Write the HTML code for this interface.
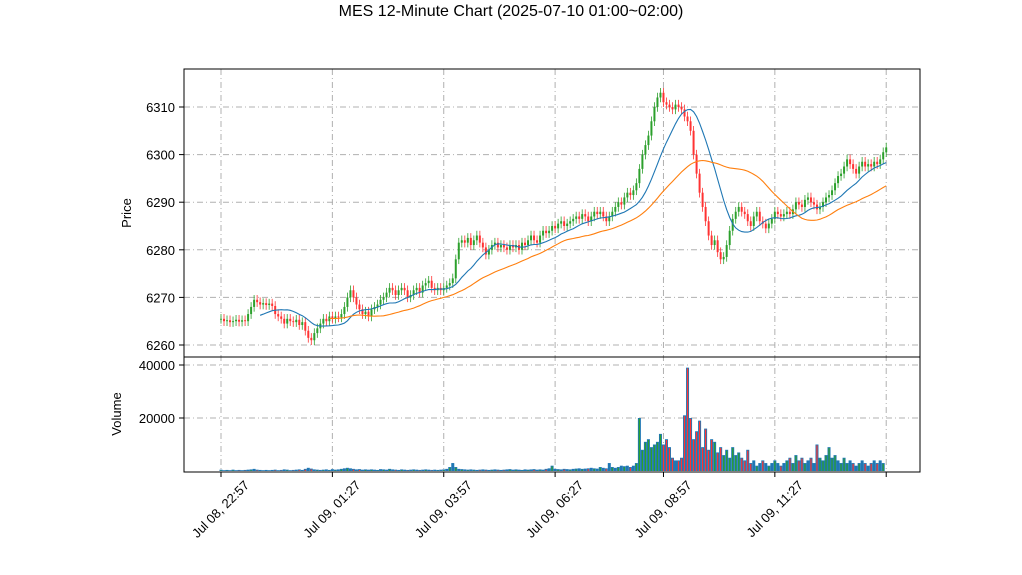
<!DOCTYPE html>
<html><head><meta charset="utf-8"><style>
body{margin:0;background:#fff;font-family:"Liberation Sans","DejaVu Sans",sans-serif}
svg{display:block}
</style></head><body>
<svg id="c" width="1022" height="575" font-family="Liberation Sans, DejaVu Sans, sans-serif">
<text x="511" y="16" text-anchor="middle" font-size="16">MES 12-Minute Chart (2025-07-10 01:00~02:00)</text>
<g id="grid"></g>
<g id="vol"></g>
<g id="candles"></g>
<g id="mas"></g>
<rect x="184" y="69" width="736" height="288" fill="none" stroke="#000"/>
<rect x="184" y="357" width="736" height="115" fill="none" stroke="#000"/>
<g id="axes" font-size="13"></g>
<text transform="translate(131,213) rotate(-90)" text-anchor="middle" font-size="13">Price</text>
<text transform="translate(121,414) rotate(-90)" text-anchor="middle" font-size="13">Volume</text>
</svg>
<script>
const closes=[6265.5,6265,6265.2,6264.8,6265,6265.3,6264.9,6265.2,6265,
6266.5,6268,6269.5,
6269,6268.5,6268.8,6268.4,6268.7,6268.2,
6266.5,6266,6265.5,6264.5,6265.5,
6265,6264.8,6265.3,6264.2,6264.8,
6263,6261.5,6261,6262.5,6263.5,
6264.5,6265.5,6265,6266,
6265.5,6266,6265.8,6266.5,6268,
6270,6271.5,6270,6268.5,
6267.5,6266.5,6267,6266,
6267.5,6268,6268.5,
6269.5,6270,6271,6272,6271.5,6270.5,6271.5,
6272,6271.5,6270,6270.5,6271.5,6272,6271,
6272.5,6273,6273.5,6272,6271.5,6272,6271.5,
6272,6272.5,6273,6274,
6278,6281.5,6282,
6281.5,6282.5,6281,6282,6283,6281.5,6280.5,
6279,6280,6281,6281.5,6280.5,6281,6280.5,
6280,6281,6280.5,6281,6280,6281.5,6281,6282,
6283,6282,6281.5,6283,6284,6283.5,
6284,6285,6284.5,6285.5,6286,6285,
6285.5,6286,6286.5,6287,6286.5,6287.5,6287,6286,6287,
6288,6287.5,6288,6287,6286,6287,6288,6289,
6290,6289.5,6291,6292,6291.5,6292.5,
6294,6297,6300,6302,6304,
6307,6310,6312,6313,6311,
6310.5,6310,6309.5,6310.5,6310,6309.5,6308,6307,6305,
6300,6296,6292,6289,
6286,6283,6281,6282,6279.5,6278,
6278.5,6281,6284,6286.5,
6288,6289,6288,6287.5,6286,6285,
6287,6288,6286,6285.5,6284.5,6285.5,
6286.5,6288,6287.5,6287,6287.5,6288,6287.5,
6288.5,6290,6289.5,6289,6290.5,6291,6290,
6289.5,6288.5,6289,6290,6291,6291.5,
6292.5,6294,6295.5,6296,6297.5,
6299,6298,6297,6296,6297.5,6298.5,6297.5,
6298,6297.5,6298.5,6298,6299,6300.5,6301.5];
const volumes=[0.5,0.3,0.4,0.3,0.5,0.3,0.4,0.3,0.4,0.5,0.6,0.8,0.5,0.4,0.3,0.4,0.3,0.4,0.5,0.3,0.4,0.6,0.5,0.3,0.4,0.5,0.6,0.4,0.8,1.2,0.9,0.6,0.5,0.4,0.5,0.6,0.4,0.7,0.5,0.6,0.8,1.0,1.2,1.0,0.8,0.6,0.7,0.5,0.6,0.5,0.6,0.5,0.4,0.7,0.6,0.5,0.8,0.6,0.5,0.4,0.6,0.5,0.4,0.5,0.6,0.5,0.4,0.5,0.6,0.5,0.4,0.5,0.4,0.5,0.6,0.8,1.5,3,1.5,0.8,0.7,0.6,0.5,0.6,0.5,0.4,0.5,0.6,0.5,0.4,0.5,0.6,0.5,0.4,0.5,0.6,0.7,0.5,0.6,0.5,0.4,0.6,0.5,0.6,0.7,0.5,0.6,0.5,0.8,1.0,2,0.8,0.7,0.6,0.8,0.7,0.6,0.8,0.9,1.0,0.8,0.9,1.0,1.2,1.0,0.9,1.5,1.2,1.0,3,1.5,1.2,1.5,2,1.8,2,1.5,2,3,20,8,11,12,9,10,11,14,10,12,9,5,4,4,5,21,39,20,12,15,19,9,16,8,12,11,7,9,6,8,5,9,6,7,5,4,8,3,4,2,3,4,3,2,3,4,3,2,3,4,5,3,6,4,5,3,4,5,3,10,5,4,6,9,5,6,4,3,5,3,4,3,2,3,4,3,2,3,4,3,4,3];
const priceTicks=[6260,6270,6280,6290,6300,6310];
const volTicks=[20000,40000];
const xTickLabels=["Jul 08, 22:57","Jul 09, 01:27","Jul 09, 03:57","Jul 09, 06:27","Jul 09, 08:57","Jul 09, 11:27",""];
const xTickIdx=[0,37,74,111,147,184,221];
const maShort=14, maLong=37;

const NS="http://www.w3.org/2000/svg";
const X=i=>221+i*3.01;
const Y=p=>107+(6310-p)*4.76;
const VY=v=>471-v*2.65;
function mk(tag,attrs,parent){const e=document.createElementNS(NS,tag);for(const k in attrs)e.setAttribute(k,attrs[k]);parent.appendChild(e);return e;}
const grid=document.getElementById('grid'),axes=document.getElementById('axes');
const gs={stroke:"#b0b0b0","stroke-dasharray":"6,3,1,3","stroke-width":1};
priceTicks.forEach(p=>{
  const l=mk('line',Object.assign({x1:184,x2:920,y1:Y(p),y2:Y(p)},gs),grid);
  
  
  mk('line',{x1:179,x2:184,y1:Y(p),y2:Y(p),stroke:"#000"},axes);
  const t=mk('text',{x:175,y:Y(p)+5,"text-anchor":"end"},axes);t.textContent=p;
  
  
});
volTicks.forEach(v=>{
  const y=VY(v/1000);
  const l=mk('line',Object.assign({x1:184,x2:920,y1:y,y2:y},gs),grid);
  
  
  mk('line',{x1:179,x2:184,y1:y,y2:y,stroke:"#000"},axes);
  const t=mk('text',{x:175,y:y+5,"text-anchor":"end"},axes);t.textContent=v;
  
  
});
xTickIdx.forEach((i,k)=>{
  const x=X(i);
  const l=mk('line',Object.assign({x1:x,x2:x,y1:69,y2:472},gs),grid);
  
  
  mk('line',{x1:x,x2:x,y1:472,y2:477,stroke:"#000"},axes);
  if(xTickLabels[k]){const t=mk('text',{transform:`translate(${x+29},${486}) rotate(-45)`,"text-anchor":"end"},axes);t.textContent=xTickLabels[k];
  
  }
});
const cg=document.getElementById('candles'),vg=document.getElementById('vol');
closes.forEach((c,i)=>{
  const o=i?closes[i-1]:c;
  const up=c>=o, col=up?"#2ca02c":"#ff3333";
  const hi=Math.max(o,c)+1.0, lo=Math.min(o,c)-1.0;
  const x=X(i);
  const w=mk('line',{x1:x,x2:x,y1:Y(hi),y2:Y(lo),stroke:col,"stroke-width":0.8},cg);
  
  
  const top=Y(Math.max(o,c)),h=Math.max(0.8,Y(Math.min(o,c))-top);
  const b=mk('rect',{x:x-1,y:top,width:2,height:h,fill:col},cg);
  
  
  const vy=VY(volumes[i]);
  const vb=mk('rect',{x:x-1.5,y:vy,width:3,height:471-vy,fill:"#1f77b4"},vg);
  
  
  if(i%2===0||volumes[i]>4){
    const vc=mk('rect',{x:x-0.6,y:vy+0.8,width:1.2,height:Math.max(0,471-vy-0.8),fill:col},vg);
    
    
  }
});
const mg=document.getElementById('mas');
[[maShort,"#1f77b4"],[maLong,"#ff7f0e"]].forEach(([n,col])=>{
  let d="";
  for(let i=n-1;i<closes.length;i++){let s=0;for(let j=i-n+1;j<=i;j++)s+=closes[j];d+=(d?"L":"M")+X(i).toFixed(1)+","+Y(s/n).toFixed(1);}
  const p=mk('path',{d,fill:"none",stroke:col,"stroke-width":1.1},mg);
  
  
});
</script>
</body></html>
